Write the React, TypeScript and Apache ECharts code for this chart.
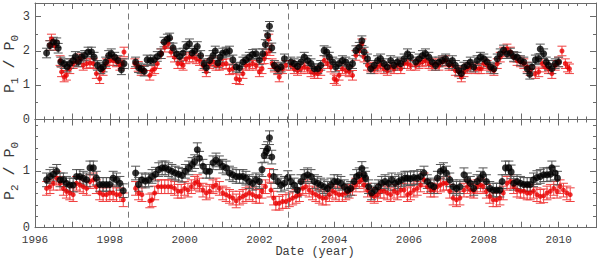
import React, { useEffect, useRef } from 'react';
import * as echarts from 'echarts';

const X_MIN = 1996;
const X_MAX = 2011;
const P1_MAX = 3.4;
const P2_MAX = 1.9;
const DASHED_YEARS = [1998.5, 2002.77];
const P1_ERR = 0.14;
const P2_ERR = 0.12;

const p1Black: [number, number][] = [
  [1996.31,1.94],[1996.40,2.16],[1996.49,2.26],[1996.58,2.24],[1996.62,2.08],[1996.69,1.68],[1996.78,1.63],[1996.86,1.53],[1996.93,1.63],[1997.02,1.72],[1997.08,1.84],[1997.16,1.68],[1997.24,1.82],[1997.33,1.87],[1997.42,1.97],[1997.51,1.97],[1997.58,1.82],[1997.67,1.58],[1997.76,1.48],[1997.82,1.53],[1997.89,1.68],[1997.97,1.87],[1998.04,1.92],[1998.13,1.82],[1998.22,1.72],[1998.31,1.45],[1998.38,1.63],
  [1998.69,1.68],[1998.77,1.51],[1998.84,1.48],[1998.92,1.41],[1999.00,1.74],[1999.09,1.72],[1999.18,1.74],[1999.27,1.84],[1999.36,1.92],[1999.45,2.26],[1999.54,2.35],[1999.60,2.38],[1999.69,2.09],[1999.78,1.92],[1999.87,1.84],[1999.96,1.94],[2000.04,2.13],[2000.13,2.21],[2000.20,1.94],[2000.27,2.00],[2000.34,2.13],[2000.43,1.87],[2000.52,1.63],[2000.58,1.51],[2000.67,1.72],[2000.76,1.87],[2000.82,2.00],[2000.89,1.65],
  [2000.95,1.82],[2001.02,1.94],[2001.11,1.97],[2001.20,2.00],[2001.29,1.74],[2001.38,1.53],[2001.47,1.51],[2001.56,1.68],[2001.64,1.74],[2001.73,1.82],[2001.82,1.90],[2001.91,1.92],[2002.00,1.74],[2002.09,1.92],[2002.16,2.19],[2002.22,2.45],[2002.27,2.72],[2002.33,2.09],[2002.40,1.58],[2002.49,1.48],[2002.58,1.53],[2002.67,1.77],
  [2002.84,1.68],[2002.93,1.63],[2003.02,1.55],[2003.11,1.68],[2003.20,1.82],[2003.29,1.72],[2003.38,1.63],[2003.47,1.48],[2003.56,1.48],[2003.64,1.58],[2003.73,2.01],[2003.80,1.97],[2003.87,1.82],[2003.96,1.68],[2004.04,1.53],[2004.13,1.63],[2004.22,1.72],[2004.31,1.68],[2004.40,1.53],[2004.49,1.63],[2004.58,2.01],[2004.67,2.11],[2004.74,2.30],[2004.80,1.97],[2004.89,1.77],[2004.98,1.48],[2005.07,1.58],[2005.16,1.72],[2005.24,1.77],[2005.33,1.63],[2005.42,1.53],[2005.51,1.72],[2005.60,1.58],[2005.69,1.68],[2005.78,1.63],[2005.87,1.77],
  [2005.96,1.92],[2006.04,1.82],[2006.18,1.68],[2006.27,1.77],[2006.36,1.87],[2006.44,1.92],[2006.53,1.82],[2006.62,1.68],[2006.71,1.58],[2006.80,1.68],[2006.89,1.72],[2006.98,1.77],[2007.07,1.63],[2007.16,1.72],[2007.24,1.58],[2007.33,1.43],[2007.40,1.34],[2007.47,1.53],[2007.56,1.58],[2007.64,1.68],[2007.73,1.53],[2007.82,1.72],[2007.91,1.82],[2008.00,1.77],[2008.09,1.68],[2008.18,1.53],[2008.27,1.48],[2008.36,1.77],[2008.44,1.92],[2008.53,2.03],[2008.62,1.92],[2008.71,1.94],[2008.80,1.84],[2008.89,1.82],[2008.98,1.72],[2009.07,1.68],[2009.16,1.48],[2009.23,1.32],[2009.29,1.53],[2009.38,1.74],[2009.47,1.77],[2009.51,2.06],[2009.60,1.92],[2009.67,1.68],[2009.73,1.58],[2009.82,1.48],[2009.91,1.63],[2010.00,1.68]
];

const p1Red: [number, number][] = [
  [1996.40,2.16],[1996.44,2.35],[1996.53,2.16],[1996.67,1.72],[1996.71,1.39],[1996.78,1.24],[1996.84,1.29],[1996.93,1.48],[1997.02,1.63],[1997.11,1.68],[1997.20,1.77],[1997.29,1.58],[1997.38,1.63],[1997.47,1.65],[1997.56,1.63],[1997.64,1.34],[1997.73,1.19],[1997.82,1.43],[1997.91,1.63],[1998.00,1.72],[1998.09,1.72],[1998.18,1.68],[1998.27,1.58],[1998.33,1.63],[1998.38,1.97],
  [1998.67,1.63],[1998.76,1.55],[1998.84,1.43],[1998.92,1.43],[1999.07,1.29],[1999.13,1.43],[1999.20,1.48],[1999.27,1.63],[1999.38,1.92],[1999.47,2.11],[1999.56,2.21],[1999.64,1.97],[1999.73,1.82],[1999.82,1.63],[1999.91,1.63],[1999.96,1.58],[2000.04,1.77],[2000.13,1.82],[2000.22,1.82],[2000.31,1.77],[2000.40,1.72],[2000.49,1.58],[2000.58,1.39],[2000.67,1.63],[2000.76,1.68],[2000.84,1.58],
  [2000.93,1.58],[2001.02,1.61],[2001.11,1.63],[2001.20,1.45],[2001.29,1.48],[2001.38,1.19],[2001.47,1.16],[2001.56,1.34],[2001.64,1.58],[2001.73,1.58],[2001.82,1.63],[2001.91,1.58],[2002.00,1.39],[2002.07,1.48],[2002.13,1.77],[2002.18,1.92],[2002.25,2.35],[2002.28,2.01],[2002.34,1.63],[2002.40,1.53],[2002.49,1.45],[2002.53,1.24],[2002.62,1.48],[2002.71,1.58],
  [2002.84,1.58],[2002.93,1.48],[2003.02,1.43],[2003.11,1.48],[2003.20,1.53],[2003.29,1.48],[2003.38,1.39],[2003.47,1.34],[2003.56,1.34],[2003.64,1.43],[2003.73,1.72],[2003.82,1.63],[2003.91,1.53],[2004.00,1.19],[2004.06,1.14],[2004.13,1.29],[2004.22,1.48],[2004.31,1.43],[2004.40,1.39],[2004.49,1.29],[2004.58,1.87],[2004.67,2.01],[2004.74,2.21],[2004.80,1.82],[2004.89,1.58],[2004.98,1.53],[2005.07,1.48],[2005.16,1.53],[2005.24,1.58],[2005.33,1.48],[2005.42,1.43],[2005.51,1.53],[2005.60,1.48],[2005.69,1.58],[2005.78,1.48],[2005.87,1.63],
  [2005.96,1.63],[2006.04,1.58],[2006.18,1.58],[2006.27,1.63],[2006.36,1.68],[2006.44,1.72],[2006.53,1.63],[2006.62,1.58],[2006.71,1.63],[2006.80,1.58],[2006.89,1.68],[2006.98,1.72],[2007.07,1.58],[2007.16,1.58],[2007.24,1.43],[2007.33,1.39],[2007.40,1.24],[2007.47,1.39],[2007.56,1.48],[2007.64,1.53],[2007.78,1.48],[2007.87,1.48],[2007.93,1.48],[2008.00,1.63],[2008.09,1.58],[2008.18,1.48],[2008.27,1.43],[2008.36,1.63],[2008.44,1.82],[2008.53,1.97],[2008.62,2.06],[2008.71,1.97],[2008.80,1.82],[2008.89,1.72],[2008.98,1.68],[2009.07,1.63],[2009.16,1.53],[2009.24,1.43],[2009.38,1.34],[2009.47,1.39],[2009.56,1.63],[2009.64,1.53],[2009.73,1.48],[2009.82,1.34],[2009.91,1.58],[2010.00,1.68],[2010.09,2.00],[2010.18,1.63],[2010.24,1.53],[2010.29,1.48]
];

const p2Black: [number, number][] = [
  [1996.31,0.84],[1996.40,0.90],[1996.49,0.94],[1996.58,0.99],[1996.67,0.84],[1996.76,0.84],[1996.84,0.78],[1996.93,0.75],[1997.02,0.75],[1997.11,0.90],[1997.20,0.90],[1997.29,0.87],[1997.38,0.84],[1997.47,1.05],[1997.56,1.05],[1997.64,0.87],[1997.73,0.76],[1997.82,0.76],[1997.91,0.76],[1998.00,0.76],[1998.09,0.87],[1998.18,0.84],[1998.27,0.78],[1998.36,0.65],
  [1998.69,0.96],[1998.77,0.76],[1998.86,0.84],[1998.95,0.82],[1999.04,0.84],[1999.13,0.90],[1999.22,0.94],[1999.31,1.02],[1999.40,1.05],[1999.48,1.05],[1999.57,1.02],[1999.66,0.99],[1999.75,0.96],[1999.84,0.94],[1999.93,0.92],[2000.02,0.99],[2000.11,1.05],[2000.20,1.11],[2000.27,1.16],[2000.34,1.37],[2000.40,1.22],[2000.49,1.08],[2000.58,0.99],[2000.67,0.99],[2000.76,1.14],[2000.84,1.19],
  [2000.93,1.14],[2001.02,1.08],[2001.11,1.05],[2001.20,0.96],[2001.29,0.93],[2001.38,0.90],[2001.47,0.90],[2001.56,0.90],[2001.64,0.87],[2001.73,0.81],[2001.82,0.78],[2001.91,0.84],[2002.00,0.81],[2002.07,1.02],[2002.13,1.27],[2002.18,1.34],[2002.22,1.39],[2002.27,1.58],[2002.33,1.24],[2002.38,0.90],[2002.49,0.81],[2002.58,0.75],[2002.67,0.78],[2002.76,0.88],
  [2002.84,0.81],[2002.93,0.75],[2003.02,0.66],[2003.11,0.81],[2003.20,0.90],[2003.29,0.93],[2003.38,0.90],[2003.47,0.81],[2003.56,0.78],[2003.64,0.75],[2003.73,0.72],[2003.82,0.69],[2003.91,0.75],[2004.00,0.81],[2004.09,0.81],[2004.18,0.78],[2004.27,0.72],[2004.36,0.66],[2004.44,0.69],[2004.53,0.81],[2004.60,0.90],[2004.67,0.93],[2004.74,1.04],[2004.80,0.93],[2004.84,0.87],[2004.92,0.72],[2005.00,0.61],[2005.09,0.66],[2005.18,0.72],[2005.27,0.78],[2005.36,0.81],[2005.45,0.78],[2005.54,0.84],[2005.63,0.78],[2005.72,0.81],[2005.80,0.84],[2005.89,0.87],
  [2005.96,0.87],[2006.04,0.86],[2006.13,0.88],[2006.22,0.87],[2006.31,0.90],[2006.40,0.96],[2006.49,0.81],[2006.58,0.75],[2006.67,0.72],[2006.76,0.87],[2006.84,0.99],[2006.92,1.02],[2007.00,0.96],[2007.09,0.84],[2007.18,0.72],[2007.27,0.69],[2007.36,0.72],[2007.47,0.93],[2007.56,0.84],[2007.64,0.78],[2007.73,0.69],[2007.82,0.81],[2007.91,0.87],[2007.98,0.93],[2008.07,0.81],[2008.16,0.69],[2008.25,0.66],[2008.34,0.66],[2008.43,0.66],[2008.49,0.81],[2008.58,1.05],[2008.67,1.05],[2008.73,0.98],[2008.80,0.78],[2008.89,0.81],[2008.98,0.78],[2009.07,0.76],[2009.16,0.76],[2009.24,0.76],[2009.33,0.84],[2009.42,0.88],[2009.51,0.90],[2009.60,0.93],[2009.69,0.93],[2009.78,0.94],[2009.82,1.05],[2009.91,0.96],[2009.97,0.87]
];

const p2Red: [number, number][] = [
  [1996.31,0.69],[1996.40,0.72],[1996.49,0.78],[1996.58,0.87],[1996.67,0.78],[1996.76,0.69],[1996.84,0.64],[1996.93,0.61],[1997.02,0.58],[1997.11,0.78],[1997.20,0.75],[1997.29,0.72],[1997.38,0.69],[1997.47,0.81],[1997.56,0.84],[1997.64,0.72],[1997.73,0.61],[1997.82,0.58],[1997.91,0.58],[1998.00,0.61],[1998.09,0.61],[1998.18,0.58],[1998.27,0.58],[1998.36,0.49],
  [1998.69,0.69],[1998.77,0.61],[1998.86,0.58],[1999.07,0.47],[1999.13,0.49],[1999.20,0.61],[1999.29,0.72],[1999.38,0.72],[1999.47,0.72],[1999.56,0.72],[1999.64,0.72],[1999.73,0.69],[1999.82,0.64],[1999.91,0.64],[2000.00,0.69],[2000.09,0.66],[2000.18,0.72],[2000.27,0.78],[2000.34,0.81],[2000.40,0.75],[2000.49,0.66],[2000.58,0.61],[2000.67,0.64],[2000.76,0.72],[2000.84,0.75],
  [2000.93,0.69],[2001.02,0.61],[2001.11,0.58],[2001.20,0.55],[2001.29,0.52],[2001.38,0.47],[2001.47,0.52],[2001.56,0.55],[2001.64,0.58],[2001.73,0.61],[2001.82,0.58],[2001.91,0.55],[2002.00,0.55],[2002.07,0.64],[2002.16,0.72],[2002.27,0.92],[2002.31,0.66],[2002.38,0.52],[2002.44,0.43],[2002.53,0.43],[2002.62,0.46],[2002.71,0.46],
  [2002.80,0.49],[2002.89,0.52],[2002.98,0.55],[2003.07,0.58],[2003.16,0.69],[2003.24,0.72],[2003.33,0.66],[2003.42,0.61],[2003.51,0.58],[2003.60,0.55],[2003.69,0.52],[2003.78,0.52],[2003.87,0.58],[2003.96,0.64],[2004.04,0.61],[2004.13,0.58],[2004.22,0.58],[2004.31,0.61],[2004.40,0.64],[2004.49,0.69],[2004.58,0.75],[2004.67,0.81],[2004.74,0.84],[2004.80,0.75],[2004.89,0.66],[2004.98,0.58],[2005.07,0.55],[2005.16,0.58],[2005.24,0.64],[2005.33,0.64],[2005.42,0.61],[2005.51,0.58],[2005.60,0.64],[2005.69,0.61],[2005.78,0.66],[2005.87,0.66],
  [2005.96,0.58],[2006.04,0.61],[2006.13,0.66],[2006.22,0.69],[2006.31,0.75],[2006.40,0.84],[2006.49,0.72],[2006.58,0.66],[2006.67,0.66],[2006.76,0.72],[2006.84,0.75],[2006.92,0.78],[2007.00,0.78],[2007.09,0.64],[2007.18,0.52],[2007.27,0.49],[2007.36,0.52],[2007.47,0.66],[2007.56,0.72],[2007.64,0.66],[2007.73,0.64],[2007.82,0.72],[2007.91,0.75],[2007.98,0.72],[2008.07,0.64],[2008.16,0.55],[2008.25,0.49],[2008.34,0.49],[2008.43,0.52],[2008.52,0.61],[2008.62,0.78],[2008.71,0.81],[2008.80,0.72],[2008.89,0.66],[2008.98,0.64],[2009.07,0.64],[2009.16,0.61],[2009.24,0.61],[2009.33,0.64],[2009.42,0.58],[2009.51,0.55],[2009.60,0.56],[2009.69,0.61],[2009.78,0.64],[2009.87,0.69],[2009.96,0.64],[2010.04,0.72],[2010.13,0.66],[2010.22,0.61],[2010.31,0.58]
];

const BLACK = '#000000';
const BLACK_ERR = '#555555';
const RED = '#e80000';
const RED_ERR = '#f04040';
const AXIS = '#6a6a6a';
const TEXT = '#3a3a3a';
const MONO = '"Liberation Mono", "DejaVu Sans Mono", monospace';

function errRender(color: string, cap: number) {
  return (_params: any, api: any) => {
    const x = api.value(0);
    const y = api.value(1);
    const e = api.value(2);
    const hi = api.coord([x, y + e]);
    const lo = api.coord([x, y - e]);
    const style = { stroke: color, lineWidth: 1 };
    return {
      type: 'group',
      children: [
        { type: 'line', shape: { x1: hi[0], y1: hi[1], x2: lo[0], y2: lo[1] }, style },
        { type: 'line', shape: { x1: hi[0] - cap, y1: hi[1], x2: hi[0] + cap, y2: hi[1] }, style },
        { type: 'line', shape: { x1: lo[0] - cap, y1: lo[1], x2: lo[0] + cap, y2: lo[1] }, style },
      ],
    };
  };
}

function xAxisDef(gridIndex: number, position: 'top' | 'bottom', labels: boolean) {
  return {
    type: 'value', gridIndex, position, min: X_MIN, max: X_MAX, interval: 1,
    axisLine: { show: true, onZero: false, lineStyle: { color: AXIS, width: 1 } },
    axisTick: { show: true, inside: true, length: 6, lineStyle: { color: AXIS } },
    minorTick: { show: true, splitNumber: 4, length: 3, lineStyle: { color: AXIS } },
    splitLine: { show: false },
    axisLabel: {
      show: labels, margin: 6.5, color: TEXT, fontFamily: MONO, fontSize: 11, lineHeight: 11,
      showMaxLabel: false,
      formatter: (v: number) => (Math.round(v) % 2 === 0 ? String(Math.round(v)) : ''),
    },
  };
}

function yAxisDef(gridIndex: number, position: 'left' | 'right', max: number, minorSplit: number, labels: boolean) {
  return {
    type: 'value', gridIndex, position, min: 0, max, interval: 1,
    axisLine: { show: true, onZero: false, lineStyle: { color: AXIS, width: 1 } },
    axisTick: { show: true, inside: true, length: 6, lineStyle: { color: AXIS } },
    minorTick: { show: true, splitNumber: minorSplit, length: 3, lineStyle: { color: AXIS } },
    splitLine: { show: false },
    axisLabel: { show: labels, margin: 5, color: TEXT, fontFamily: MONO, fontSize: 12, lineHeight: 12, showMaxLabel: false },
  };
}

function withErr(data: [number, number][], err: number) {
  return data.map(([x, y]) => [x, y, err]);
}

function dashed() {
  return {
    silent: true,
    symbol: ['none', 'none'],
    label: { show: false },
    lineStyle: { color: '#777777', type: [6, 4], width: 1 },
    data: DASHED_YEARS.map((x) => ({ xAxis: x })),
  };
}

function yTitle(x: number, y: number, sub: string) {
  return {
    type: 'text', x, y, rotation: Math.PI / 2,
    style: {
      text: `{p|P}{s|${sub}}{p| / P}{s|0}`,
      align: 'center', verticalAlign: 'middle', fill: TEXT,
      rich: {
        p: { fontFamily: MONO, fontSize: 15, fill: TEXT },
        s: { fontFamily: MONO, fontSize: 11, fill: TEXT, padding: [9, 0, 0, 0] },
      },
    },
  };
}

export default function App() {
  const ref = useRef<HTMLDivElement>(null);
  useEffect(() => {
    const chart = echarts.init(ref.current!, null, { renderer: 'svg' });
    const option: any = {
      animation: false,
      backgroundColor: '#ffffff',
      grid: [
        { left: 35, right: 4, top: 3, height: 116.5 },
        { left: 35, right: 4, top: 119.5, height: 108.2 },
      ],
      xAxis: [
        xAxisDef(0, 'bottom', false),
        xAxisDef(0, 'top', false),
        xAxisDef(1, 'bottom', true),
        xAxisDef(1, 'top', false),
      ],
      yAxis: [
        yAxisDef(0, 'left', P1_MAX, 2, true),
        yAxisDef(0, 'right', P1_MAX, 2, false),
        yAxisDef(1, 'left', P2_MAX, 5, true),
        yAxisDef(1, 'right', P2_MAX, 5, false),
      ],
      series: [
        { type: 'custom', xAxisIndex: 0, yAxisIndex: 0, renderItem: errRender(RED_ERR, 4.5), data: withErr(p1Red, P1_ERR), z: 1 },
        { type: 'custom', xAxisIndex: 0, yAxisIndex: 0, renderItem: errRender(BLACK_ERR, 4.5), data: withErr(p1Black, P1_ERR), z: 2 },
        { type: 'scatter', xAxisIndex: 0, yAxisIndex: 0, data: p1Red, symbolSize: 5, itemStyle: { color: RED }, z: 3 },
        { type: 'scatter', xAxisIndex: 0, yAxisIndex: 0, data: p1Black, symbolSize: 7, itemStyle: { color: BLACK }, z: 4, markLine: dashed() },
        { type: 'custom', xAxisIndex: 2, yAxisIndex: 2, renderItem: errRender(RED_ERR, 4.5), data: withErr(p2Red, P2_ERR), z: 1 },
        { type: 'custom', xAxisIndex: 2, yAxisIndex: 2, renderItem: errRender(BLACK_ERR, 4.5), data: withErr(p2Black, P2_ERR), z: 2 },
        { type: 'scatter', xAxisIndex: 2, yAxisIndex: 2, data: p2Red, symbolSize: 5, itemStyle: { color: RED }, z: 3 },
        { type: 'scatter', xAxisIndex: 2, yAxisIndex: 2, data: p2Black, symbolSize: 7, itemStyle: { color: BLACK }, z: 4, markLine: dashed() },
      ],
      graphic: [
        yTitle(10, 64, '1'),
        yTitle(10, 171, '2'),
        {
          type: 'text', x: 315, y: 251.8,
          style: { text: 'Date (year)', align: 'center', verticalAlign: 'middle', fill: TEXT, fontFamily: MONO, fontSize: 12, lineHeight: 12 },
        },
      ],
    };
    chart.setOption(option);
    return () => chart.dispose();
  }, []);
  return <div ref={ref} style={{ position: 'fixed', left: 0, top: 0, width: 600, height: 258 }} />;
}
